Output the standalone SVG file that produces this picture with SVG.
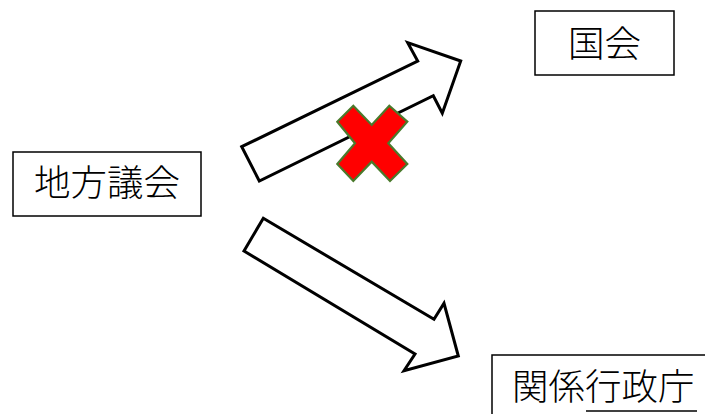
<svg xmlns="http://www.w3.org/2000/svg" width="705" height="414" viewBox="0 0 705 414">
<style>
.box{fill:#fff;stroke:#000;stroke-width:1.5}
.lbl{font-family:"Noto Sans CJK JP","Noto Sans CJK SC",sans-serif;font-size:36.5px;font-weight:300;fill:#000}
.arrow{fill:#fff;stroke:#000;stroke-width:3;stroke-linejoin:miter}
</style>
<rect width="705" height="414" fill="#fff"/>
<g id="connectors">
<polygon class="arrow" points="241.7,146.7 417.7,61 407.7,42.7 460.7,61 442.3,113.3 433.3,95.7 259.3,181"/>
<polygon class="arrow" points="263.3,218.3 434,319.3 444,303.3 458.3,356 404,370.7 415,354 244,251"/>
<polygon id="cross" points="337.3,121.7 353.3,105.7 371.7,125 389.3,105.7 407.3,121.7 388.3,143.3 407.3,164 390,181 371.7,161.7 353.3,181 337.3,164 355,143.3" fill="#ff0000" stroke="#4a7a2c" stroke-width="2.2" stroke-linejoin="miter"/>
</g>
<g id="node-chihou">
<rect class="box" x="13" y="152" width="188" height="64"/>
<text class="lbl" x="107" y="196" text-anchor="middle">地方議会</text>
</g>
<g id="node-kokkai">
<rect class="box" x="535" y="11" width="139" height="64"/>
<text class="lbl" x="604.5" y="57" text-anchor="middle">国会</text>
</g>
<g id="node-kankei">
<rect class="box" x="492" y="355" width="240" height="80"/>
<text class="lbl" x="512" y="400">関係行政庁</text>
<line x1="586" y1="411" x2="697" y2="411" stroke="#000" stroke-width="1.5"/>
</g>
</svg>
